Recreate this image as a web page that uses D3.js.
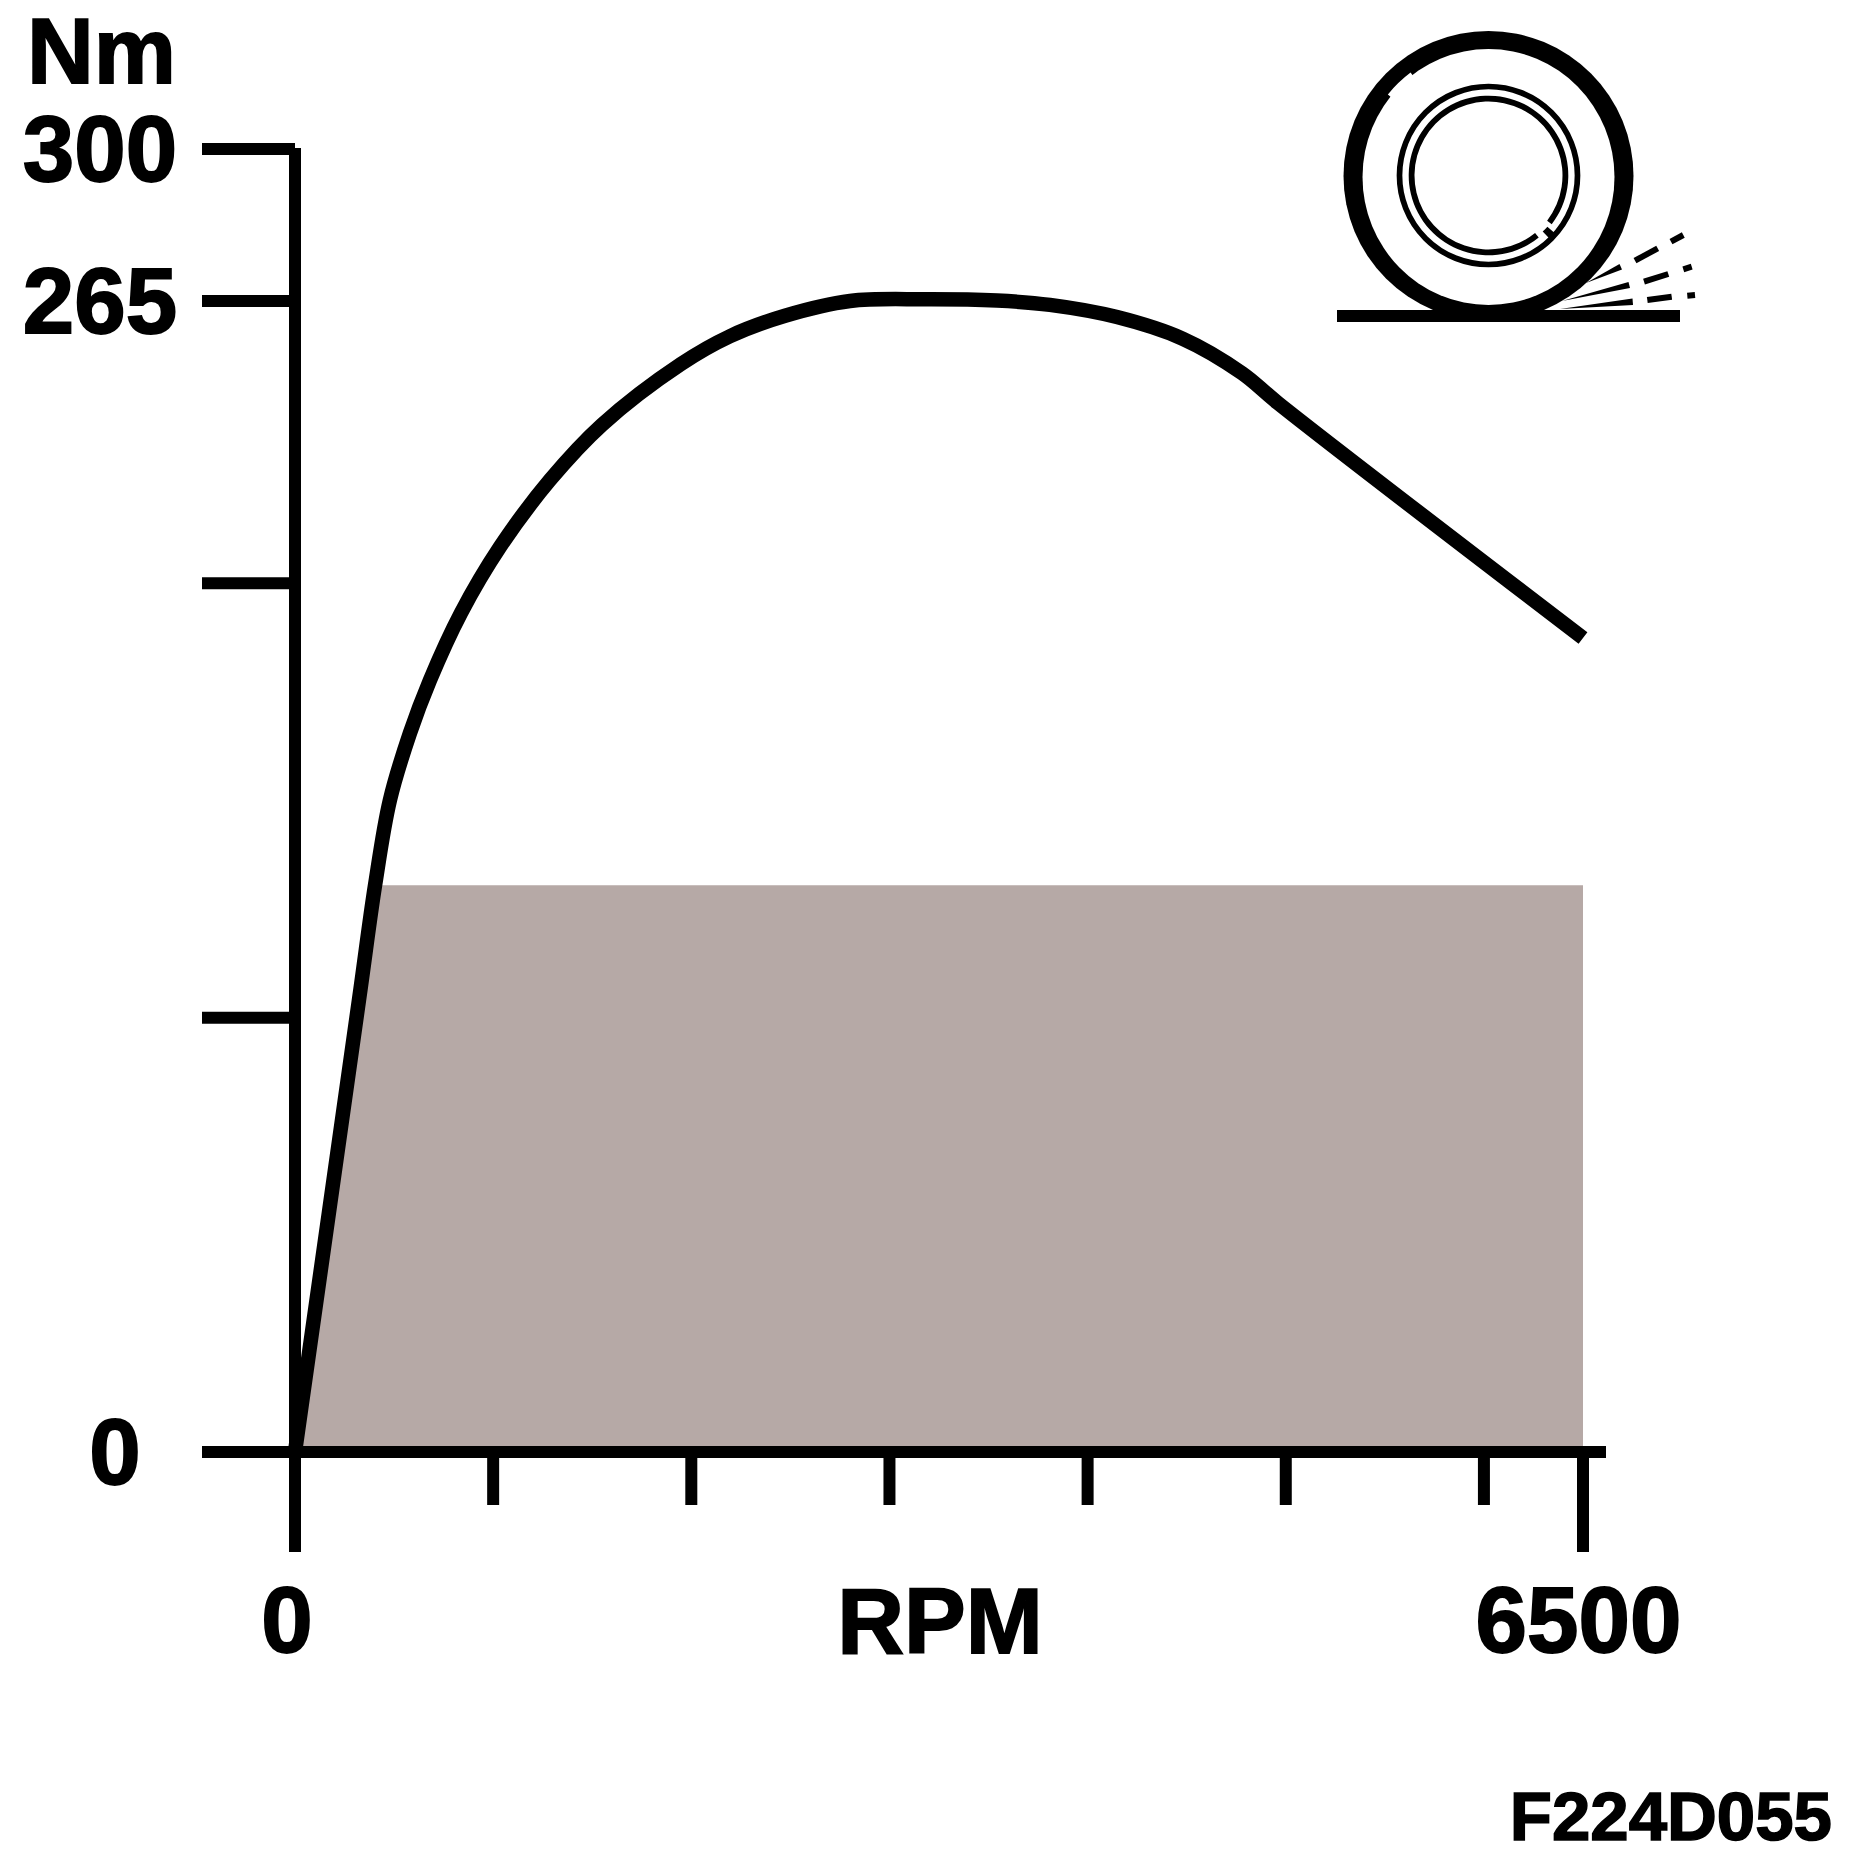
<!DOCTYPE html>
<html><head><meta charset="utf-8">
<style>html,body{margin:0;padding:0;background:#fff}svg{display:block}text{font-family:"Liberation Sans",Arial,sans-serif;font-weight:700;fill:#000;stroke:#000;stroke-width:1.8px;stroke-linejoin:miter}</style>
<script src="https://cdn.jsdelivr.net/npm/d3@7"></script></head><body><script>
const rpmValues=[0,323,404,479,580,681,838,1035,1287,1549,1948,2195,2473,2801,3179,3543,3810,4148,4481,4779,4961,6500];
const torqueValues=[0,104.1,130.5,150.1,165.5,177.7,193.2,208.4,223.8,236.5,250.5,256.9,261.6,265,265.4,265.1,264.1,261.3,256.3,248.4,241.5,187.4];
const limitRpm=[0,404,6500];
const limitTorque=[0,130.5,130.5];
const yTicks=[0,100,200,265,300];
const yLabels=new Map([[0,"0"],[265,"265"],[300,"300"]]);
const xTicks=[0,1000,2000,3000,4000,5000,6000,6500];
const xLabels=new Map([[0,"0"],[6500,"6500"]]);

const W=1856,H=1864;
const x=d3.scaleLinear().domain([0,6500]).range([295,1583]);
const y=d3.scaleLinear().domain([0,300]).range([1452,149]);
const svg=d3.select("body").append("svg").attr("width",W).attr("height",H).attr("viewBox",`0 0 ${W} ${H}`);
svg.append("rect").attr("width",W).attr("height",H).attr("fill","#fff");

// limit area
svg.append("path").datum(limitRpm.map((r,i)=>[r,limitTorque[i]]))
  .attr("fill","#b6a9a6")
  .attr("d",d3.area().x(d=>x(d[0])).y0(y(0)).y1(d=>y(d[1])));

// axes
const ax=svg.append("g").attr("transform",`translate(0,${y(0)})`)
  .call(d3.axisBottom(x).tickValues(xTicks).tickSize(53).tickSizeOuter(0).offset(0).tickFormat(""));
ax.select(".domain").remove();
ax.selectAll(".tick line").attr("stroke","#000").attr("stroke-width",12)
  .attr("y2",d=>xLabels.has(d)?100:53);
const ay=svg.append("g").attr("transform",`translate(${x(0)},0)`)
  .call(d3.axisLeft(y).tickValues(yTicks).tickSize(93).tickSizeOuter(0).offset(0).tickFormat(""));
ay.select(".domain").remove();
ay.selectAll(".tick line").attr("stroke","#000").attr("stroke-width",12);
svg.append("line").attr("x1",x(0)).attr("x2",x(0)).attr("y1",y(300)-1).attr("y2",y(0)).attr("stroke","#000").attr("stroke-width",12);
svg.append("line").attr("x1",x(0)).attr("x2",x.range()[1]+23).attr("y1",y(0)).attr("y2",y(0)).attr("stroke","#000").attr("stroke-width",12);

// torque curve
svg.append("path").datum(rpmValues.map((r,i)=>[r,torqueValues[i]]))
  .attr("fill","none").attr("stroke","#000").attr("stroke-width",14.5).attr("stroke-linejoin","round")
  .attr("d",d3.line().x(d=>x(d[0])).y(d=>y(d[1])).curve(d3.curveCatmullRom.alpha(0.5)));

// labels
const FS=92.5;
svg.append("g").selectAll("text").data(yTicks.filter(t=>yLabels.has(t))).join("text")
  .attr("x",d=>d===0?115:100).attr("y",d=>y(d)+32).attr("text-anchor","middle").attr("font-size",FS).text(d=>yLabels.get(d));
svg.append("g").selectAll("text").data(xTicks.filter(t=>xLabels.has(t))).join("text")
  .attr("x",d=>x(d)+(d===0?-8:-4.5)).attr("y",1652).attr("text-anchor","middle").attr("font-size",FS).text(d=>xLabels.get(d));
svg.append("text").attr("x",940).attr("y",1653).attr("text-anchor","middle").attr("font-size",FS).text("RPM");
svg.append("text").attr("x",101.5).attr("y",83).attr("text-anchor","middle").attr("font-size",FS).text("Nm");
svg.append("text").attr("x",1832).attr("y",1840).attr("text-anchor","end").attr("font-size",69).style("stroke-width","1.5px").text("F224D055");

// wheel icon
const icon=svg.append("g").attr("class","icon");
const cx=1488.5, cy=176, rimY=175.5;
icon.append("circle").attr("cx",cx).attr("cy",cy).attr("r",145).attr("fill","#000");
icon.append("ellipse").attr("cx",cx).attr("cy",cy+1).attr("rx",126).attr("ry",128).attr("fill","#fff");
const deg=Math.PI/180;
const arc=d3.arc();
icon.append("path").attr("transform",`translate(${cx},${cy})`).attr("fill","#fff")
  .attr("d",arc({innerRadius:124,outerRadius:129.5,startAngle:-51*deg,endAngle:-37*deg}));
// rim rings
icon.append("circle").attr("cx",cx).attr("cy",rimY).attr("r",89).attr("fill","none").attr("stroke","#000").attr("stroke-width",5.7);
icon.append("path").attr("transform",`translate(${cx},${rimY})`).attr("fill","#000")
  .attr("d",arc({innerRadius:74,outerRadius:79.8,startAngle:141*deg,endAngle:487.6*deg}));
icon.append("path").attr("transform",`translate(${cx},${rimY})`).attr("fill","#000")
  .attr("d",arc({innerRadius:78,outerRadius:88,startAngle:131*deg,endAngle:136*deg}));
// ground
icon.append("rect").attr("x",1337).attr("y",310).attr("width",343).attr("height",12).attr("fill","#000");
// spray: tapered streaks from the tyre, then dashes
const streaks=[[[1586,283],[1619.5,264],[1622,269.5]],[[1562,301],[1628.5,282],[1630,288]],[[1560,309],[1632.5,298.5],[1633,305]]];
icon.selectAll("path.streak").data(streaks).join("path").attr("class","streak")
  .attr("d",d=>d3.line()(d)+"Z").attr("fill","#000");
const spray=[[[1635,260.7],[1657.7,248.3]],[[1671,241.7],[1683.3,235]],[[1644,281.7],[1668.3,274]],[[1683.3,269.3],[1691.7,266.7]],
 [[1647.3,300],[1671.7,296.7]],[[1687.3,295.7],[1695,295]]];
icon.selectAll("path.spray").data(spray).join("path").attr("class","spray")
  .attr("d",d3.line()).attr("stroke","#000").attr("stroke-width",6).attr("fill","none");
</script></body></html>
